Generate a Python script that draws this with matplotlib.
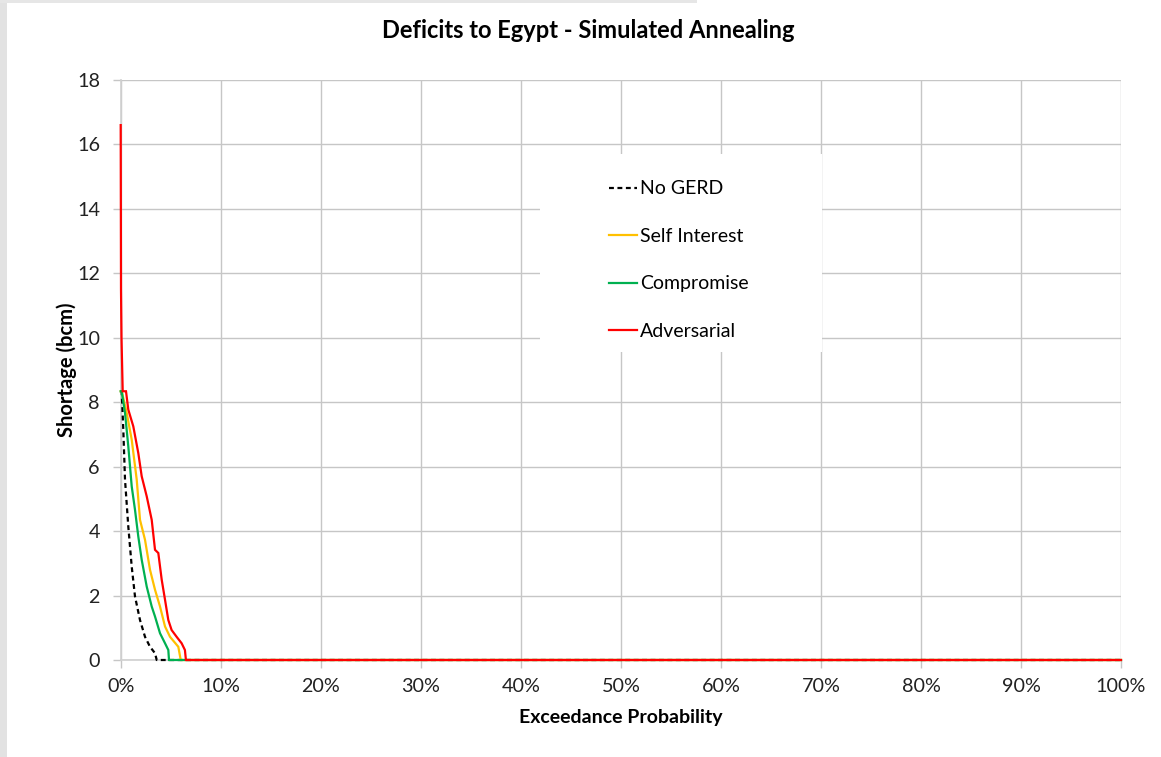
import matplotlib
matplotlib.use("Agg")
import matplotlib.pyplot as plt
from matplotlib.patches import Rectangle
from matplotlib.ticker import FuncFormatter, MultipleLocator

plt.rcParams['font.family'] = ['Lato', 'DejaVu Sans']

# Exceedance probability (%) and shortage (bcm) for each scenario
no_gerd_x = [0.0, 0.1, 0.26, 0.43, 0.76, 1.1, 1.43, 1.93, 2.43, 2.93, 3.43, 3.6, 100.0]
no_gerd_y = [8.34, 8.34, 7.15, 5.6, 4.14, 2.9, 1.97, 1.24, 0.72, 0.41, 0.21, 0.0, 0.0]

self_x = [0.0, 0.1, 0.6, 1.1, 1.6, 1.93, 2.43, 2.93, 3.43, 3.93, 4.43, 4.93, 5.76, 6.0, 100.0]
self_y = [8.34, 8.34, 7.67, 6.84, 5.6, 4.35, 3.73, 2.8, 2.18, 1.66, 1.04, 0.72, 0.41, 0.0, 0.0]

comp_x = [0.0, 0.1, 0.43, 0.76, 1.1, 1.43, 1.76, 2.1, 2.6, 3.1, 3.43, 3.93, 4.43, 4.76, 4.83, 100.0]
comp_y = [8.34, 8.34, 7.67, 6.63, 5.39, 4.66, 3.83, 3.11, 2.28, 1.66, 1.35, 0.83, 0.52, 0.31, 0.0, 0.0]

adv_x = [0.0, 0.03, 0.08, 0.2, 0.53, 0.76, 1.26, 1.76, 2.1, 2.6, 3.1, 3.43, 3.76, 4.1,
         4.43, 4.76, 5.09, 5.59, 6.09, 6.42, 6.52, 100.0]
adv_y = [16.6, 11.5, 10.0, 8.34, 8.34, 7.77, 7.25, 6.42, 5.7, 5.08, 4.35, 3.42, 3.32, 2.49,
         1.87, 1.24, 0.93, 0.72, 0.52, 0.31, 0.0, 0.0]

series = [
    ("No GERD", no_gerd_x, no_gerd_y, "black", (0, (2.2, 1.6))),
    ("Self Interest", self_x, self_y, "#FFC000", "-"),
    ("Compromise", comp_x, comp_y, "#00B050", "-"),
    ("Adversarial", adv_x, adv_y, "#FF0000", "-"),
]

W, H = 1161, 757
fig = plt.figure(figsize=(W / 100, H / 100), dpi=100)
fig.patch.set_facecolor("white")

# light grey frame strips along the left and top edges
fig.patches.append(Rectangle((0, 0), 7 / W, 1, transform=fig.transFigure,
                             facecolor="#e2e2e2", edgecolor="none", zorder=0))
fig.patches.append(Rectangle((0, 1 - 3 / H), 0.6, 3 / H, transform=fig.transFigure,
                             facecolor="#e6e6e6", edgecolor="none", zorder=0))

ax = fig.add_axes([120.7 / W, 1 - 660 / H, 1000.3 / W, 580 / H])

for label, xs, ys, color, ls in series:
    ax.plot(xs, ys, color=color, linestyle=ls, lw=1.6, label=label, zorder=4,
            solid_joinstyle="miter", clip_on=False)

ax.set_xlim(0, 100)
ax.set_ylim(0, 18)
ax.xaxis.set_major_locator(MultipleLocator(10))
ax.yaxis.set_major_locator(MultipleLocator(2))
ax.xaxis.set_major_formatter(FuncFormatter(lambda v, p: f"{v:.0f}%"))

grid_c = "#c6c6c6"
ax.grid(True, color=grid_c, lw=1.0, zorder=1)
ax.set_axisbelow(True)
for side in ("top", "right"):
    ax.spines[side].set_visible(False)
for side in ("left", "bottom"):
    ax.spines[side].set_color("#d0d0d0")
    ax.spines[side].set_linewidth(1.2)

ax.tick_params(axis="both", colors=grid_c, length=6, width=1.0, labelsize=14.2,
               labelcolor="#222222")
ax.tick_params(axis="y", pad=9)
ax.tick_params(axis="x", pad=7)

ax.set_xlabel("Exceedance Probability", fontsize=14, fontweight="bold", labelpad=10)
ax.set_ylabel("Shortage (bcm)", fontsize=14.5, fontweight="bold", labelpad=0)

fig.text(588 / W, 1 - 30 / H, "Deficits to Egypt - Simulated Annealing",
         ha="center", va="center", fontsize=17, fontweight="bold")

# white background panel behind the legend
ax.add_patch(Rectangle((0.419, 9.57 / 18), 0.2816, 6.13 / 18, transform=ax.transAxes,
                       facecolor="white", edgecolor="none", zorder=2))

ax.legend(loc="upper left", bbox_to_anchor=(0.488, 0.827), frameon=False,
          fontsize=14, handlelength=1.45, handletextpad=0.15, labelspacing=1.57,
          borderpad=0, borderaxespad=0)

fig.savefig("out.png", dpi=100)
